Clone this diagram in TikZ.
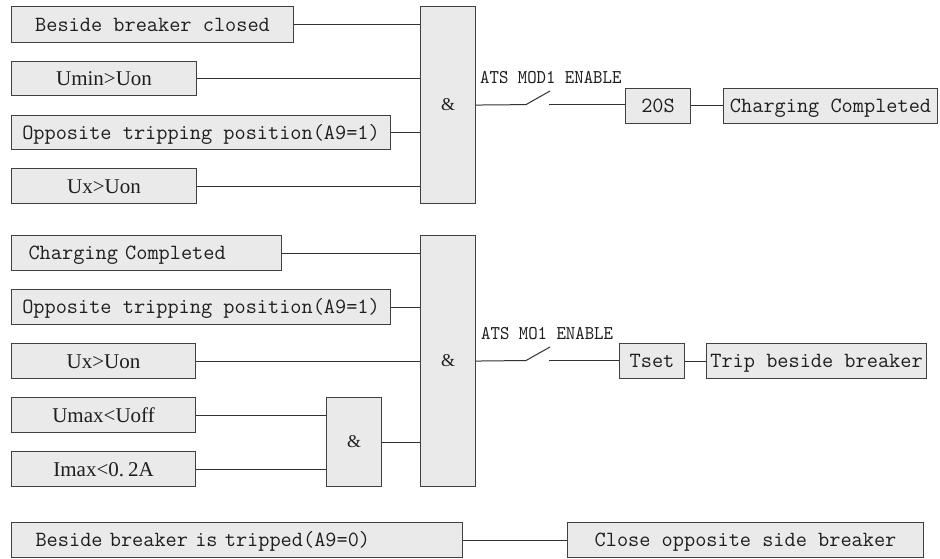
\documentclass[tikz,border=0pt]{standalone}
\usepackage{fontspec}
\newfontfamily\relfont{Liberation Serif}
\newfontfamily\tagfont[FakeStretch=0.92]{lmmono10-regular.otf}
\definecolor{boxfill}{RGB}{234,234,234}
\definecolor{edge}{RGB}{64,64,64}
\definecolor{wirecol}{RGB}{50,50,50}
\definecolor{ink}{RGB}{30,30,30}
\tikzset{
  blk/.style={draw=edge, fill=boxfill, line width=1.1pt, inner sep=0pt,
              anchor=north west, text=ink},
  mono/.style={font=\ttfamily\fontsize{21.7pt}{24pt}\selectfont,
               text height=14.3pt, text depth=1pt},
  prop/.style={font=\relfont\fontsize{21pt}{23pt}\selectfont,
               text height=15pt, text depth=1pt},
  gate/.style={blk, font=\relfont\fontsize{18pt}{20pt}\selectfont},
  tag/.style={font=\tagfont\fontsize{19.5pt}{21pt}\selectfont, inner sep=0pt,
              anchor=base west, text=ink},
  wire/.style={draw=wirecol, line width=1pt},
}
\begin{document}
\begin{tikzpicture}[x=1pt, y=-1pt]
\fill[white] (0,0) rectangle (940,558);
\useasboundingbox (0,0) rectangle (940,558);

% ---- charging logic ----
\node[blk, mono, minimum width=282pt, minimum height=36pt] (a1) at (11,6) {Beside breaker closed};
\node[blk, prop, minimum width=185pt, minimum height=34pt] (a2) at (11,61) {Umin>Uon};
\node[blk, mono, minimum width=379pt, minimum height=34pt] (a3) at (11,115) {Opposite tripping position(A9=1)};
\node[blk, prop, minimum width=185pt, minimum height=35pt] (a4) at (11,168) {Ux>Uon};
\node[gate, minimum width=55pt, minimum height=197pt] (g1) at (420,6) {\&};
\node[blk, mono, minimum width=65pt, minimum height=34.5pt] (t1) at (625,88) {20S};
\node[blk, mono, minimum width=214pt, minimum height=34.5pt] (cc) at (723,88) {Charging Completed};
\node[tag] (l1) at (480,83) {ATS MOD1 ENABLE};

\foreach \n in {a1,a2,a3,a4}
  \draw[wire] (\n.east) -- (\n.east -| g1.west);
\coordinate (s1a) at (526,104.6);
\coordinate (s1b) at (550,91);
\coordinate (s1c) at (549,104.6);
\draw[wire] (g1.east) -- (s1a) -- (s1b);
\draw[wire] (s1c) -- (s1c -| t1.west);
\draw[wire] (t1.east) -- (cc.west);

% ---- tripping logic ----
\node[blk, mono, text width=236pt, inner xsep=17pt, align=left, minimum height=35pt] (b1) at (11,235) {Charging Completed};
\node[blk, mono, minimum width=379pt, minimum height=35pt] (b2) at (11,289) {Opposite tripping position(A9=1)};
\node[blk, prop, minimum width=184pt, minimum height=35pt] (b3) at (11,343) {Ux>Uon};
\node[blk, prop, minimum width=184pt, minimum height=35pt] (b4) at (11,397) {Umax<Uoff};
\node[blk, prop, minimum width=184pt, minimum height=35pt] (b5) at (11,451) {Imax<0.\kern4pt2A};
\node[gate, minimum width=55pt, minimum height=89pt] (g3) at (326,397) {\&};
\node[gate, minimum width=55pt, minimum height=251pt] (g2) at (420,235) {\&};
\node[blk, mono, minimum width=65pt, minimum height=35pt] (t2) at (619,343) {Tset};
\node[blk, mono, minimum width=220pt, minimum height=35pt] (tb) at (706,343) {Trip beside breaker};
\node[tag] (l2) at (481,339) {ATS MO1 ENABLE};

\foreach \n in {b1,b2,b3}
  \draw[wire] (\n.east) -- (\n.east -| g2.west);
\foreach \n in {b4,b5}
  \draw[wire] (\n.east) -- (\n.east -| g3.west);
\draw[wire] (g3.east) -- (g3.east -| g2.west);
\coordinate (s2a) at (526,360.5);
\coordinate (s2b) at (550,347);
\coordinate (s2c) at (549,360.5);
\draw[wire] (g2.east) -- (s2a) -- (s2b);
\draw[wire] (s2c) -- (s2c -| t2.west);
\draw[wire] (t2.east) -- (tb.west);

% ---- closing ----
\node[blk, mono, text width=403pt, inner xsep=24pt, align=left, minimum height=35pt] (c1) at (11,522) {Beside breaker is tripped(A9=0)};
\node[blk, mono, minimum width=356pt, minimum height=35pt] (c2) at (567,522) {Close opposite side breaker};
\draw[wire] (c1.east) -- (c2.west);
\end{tikzpicture}
\end{document}
